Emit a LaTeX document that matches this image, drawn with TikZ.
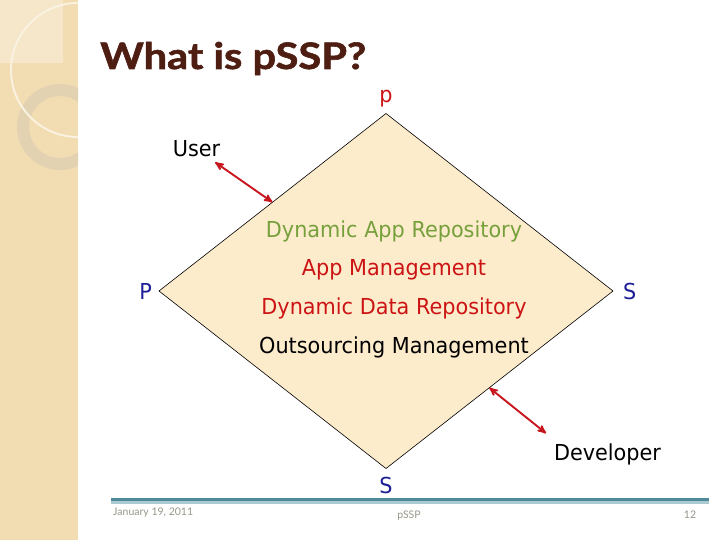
\documentclass[tikz,border=0pt]{standalone}
\usepackage{fontspec}
\setmainfont{DejaVu Sans}[FakeStretch=0.945]
\newfontfamily\titlefont{Lato}
\newfontfamily\headfont{Lato}[FakeStretch=1.14, FakeBold=1.6]
\usetikzlibrary{arrows, positioning, shapes.geometric, calc}
\definecolor{stripTan}{RGB}{242,220,178}
\definecolor{stripLight}{RGB}{246,231,202}
\definecolor{ringTan}{RGB}{226,210,178}
\definecolor{arcCream}{RGB}{250,242,224}
\definecolor{titleBrown}{RGB}{78,30,18}
\definecolor{diaFill}{RGB}{253,236,204}
\definecolor{appGreen}{RGB}{118,160,60}
\definecolor{appRed}{RGB}{204,20,20}
\definecolor{cornerBlue}{RGB}{30,30,150}
\definecolor{arrowRed}{RGB}{200,22,30}
\definecolor{ruleTeal}{RGB}{78,138,154}
\definecolor{ruleLight}{RGB}{172,202,210}
\definecolor{footGray}{RGB}{150,150,138}

\begin{document}
\begin{tikzpicture}[x=1pt,y=-1pt,>=stealth',node distance=18.8pt,
            box/.style={font=\fontsize{22}{26}\selectfont, text height=15pt, text depth=4.5pt, inner sep=0pt},
            corner/.style={font=\fontsize{22}{26}\selectfont, inner sep=0pt, outer sep=0pt},
            link/.style={<->, draw=arrowRed, line width=1.9pt},
            foot/.style={font=\titlefont\fontsize{10.5}{12}\selectfont, text=footGray, inner sep=0pt}]
  \useasboundingbox (0,0) rectangle (720,540);
  \fill[white] (0,0) rectangle (720,540);
  \fill[stripTan] (0,0) rectangle (78,540);
  \fill[stripLight] (0,0) rectangle (63,63);
  \begin{scope}
    \clip (0,0) rectangle (78,540);
    \draw[ringTan, line width=12pt] (60,127) circle (37pt);
    \draw[arcCream, line width=2pt] (78,70) circle (67pt);
  \end{scope}
  \draw[ruleTeal, line width=3pt] (111,499) -- (709,499);
  \draw[ruleLight, line width=2.5pt] (111,502.5) -- (709,502.5);

  \node[anchor=base west, inner sep=0pt, text=titleBrown,
        font=\headfont\bfseries\fontsize{36.5}{42}\selectfont] (title) at (100,69) {What is pSSP?};

  \node[diamond, draw, fill=diaFill, line width=0.6pt, aspect=1.28, inner sep=0pt, outer sep=0pt,
        minimum width=454pt, minimum height=355pt] (dia) at (386,291) {};

  \node[box, text=appGreen, anchor=base] (dar) at (394,237) {Dynamic App Repository};
  \node[box, text=appRed]   (am)  [below=of dar] {App Management};
  \node[box, text=appRed]   (ddr) [below=of am]  {Dynamic Data Repository};
  \node[box]                (om)  [below=of ddr] {Outsourcing Management};

  \node[corner, text=appRed]     (pTop)    [above=6pt of dia.north] {p};
  \node[corner, text=cornerBlue] (pLeft)   [left=7pt of dia.west]   {P};
  \node[corner, text=cornerBlue] (sRight)  [right=10pt of dia.east] {S};
  \node[corner, text=cornerBlue] (sBottom) [below=9pt of dia.south] {S};

  \node[corner, anchor=base] (user) at (196.5,157) {User};
  \node[corner, anchor=base] (dev)  at (607.5,460) {Developer};
  \coordinate (devEdge) at ($(dia.south east)!0.09!(dia.south)$);

  \draw[link] ([xshift=-5pt,yshift=-5pt]user.south east) -- (dia.north west);
  \draw[link] (devEdge) -- ([xshift=-8pt,yshift=10pt]dev.north west);

  \node[foot, anchor=base west] (date) at (113,515) {January 19, 2011};
  \node[foot, anchor=base] (foottitle) at (409,518) {pSSP};
  \node[foot, anchor=base] (page) at (690,518) {12};
\end{tikzpicture}
\end{document}
